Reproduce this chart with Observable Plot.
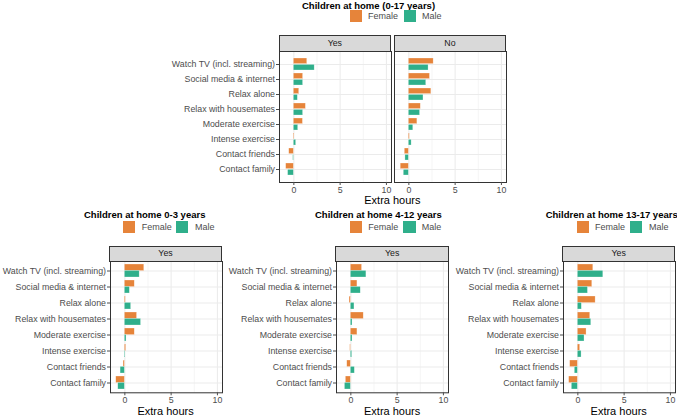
<!DOCTYPE html>
<html><head><meta charset="utf-8">
<script src="https://cdn.jsdelivr.net/npm/d3@7"></script>
<script src="https://cdn.jsdelivr.net/npm/@observablehq/plot@0.6"></script>
<style>
body{margin:0;background:#fff;font-family:"Liberation Sans",Arial,sans-serif;}
#root{position:relative;width:677px;height:416px;overflow:hidden;background:#fff;}
#root > svg{position:absolute;}
.title{position:absolute;font-weight:bold;font-size:9.5px;color:#000;white-space:nowrap;line-height:1;}
.leg{position:absolute;font-size:9px;color:#4D4D4D;white-space:nowrap;line-height:1;}
.sw{position:absolute;width:12.4px;height:12.4px;}
.strip{position:absolute;background:#D9D9D9;border:1px solid #333;box-sizing:border-box;font-size:8.8px;color:#1A1A1A;display:flex;align-items:center;justify-content:center;line-height:1;}
.xt{position:absolute;font-size:11px;color:#000;transform:translateX(-50%);white-space:nowrap;line-height:1;}
</style></head>
<body><div id="root"></div>
<script>
// ---------- data ----------
const activities = ["Watch TV (incl. streaming)", "Social media & internet", "Relax alone", "Relax with housemates", "Moderate exercise", "Intense exercise", "Contact friends", "Contact family"];
const sexes = ["Female", "Male"];
const sexColors = ["#E6843A", "#2FAF8B"];
const xTicks = [0, 5, 10];
const xMinorTicks = [2.5, 7.5];
const xDomain = [-1.55, 10.55];

const kids017_yes_female = [1.45, 1.0, 0.58, 1.3, 0.98, 0.07, -0.5, -0.83];
const kids017_yes_male   = [2.25, 1.0, 0.43, 1.0, 0.47, 0.25, -0.07, -0.62];
const kids017_no_female  = [2.68, 2.28, 2.43, 1.29, 0.92, 0.1, -0.44, -0.88];
const kids017_no_male    = [2.13, 1.88, 1.58, 1.21, 0.48, 0.3, -0.37, -0.55];
const kids03_female   = [2.1, 1.07, 0.1, 1.32, 1.07, 0.14, -0.14, -0.93];
const kids03_male     = [1.6, 0.54, 0.68, 1.75, 0.18, 0.07, -0.46, -0.71];
const kids412_female  = [1.21, 0.71, -0.14, 1.39, 0.71, -0.07, -0.39, -0.54];
const kids412_male    = [1.68, 1.07, 0.39, 0.18, 0.18, 0.14, 0.43, -0.64];
const kids1317_female = [1.67, 1.56, 1.92, 1.34, 0.94, 0.25, -0.83, -0.94];
const kids1317_male   = [2.75, 1.09, 0.43, 1.45, 0.72, 0.4, -0.33, -0.65];

// ---------- layout ----------
const root = document.getElementById("root");

function addDiv(cls, text, style) {
  const d = document.createElement("div");
  d.className = cls;
  if (text != null) d.textContent = text;
  Object.assign(d.style, style);
  root.appendChild(d);
  return d;
}

function makeChart(cfg) {
  const labels = cfg.panels.map(p => p.label);
  const rows = [];
  cfg.panels.forEach(p => {
    activities.forEach((a, i) => {
      rows.push({kids: p.label, activity: a, sex: "Female", value: p.female[i]});
      rows.push({kids: p.label, activity: a, sex: "Male", value: p.male[i]});
    });
  });
  const W = cfg.svgW, H = cfg.svgH;
  const panelH = cfg.bottom - cfg.top;
  const bw = 0.8 * panelH / 8.2;
  const total = cfg.right - cfg.left;
  const n = labels.length;
  const panelW = (total - cfg.gap * (n - 1)) / n;
  const step = panelW + cfg.gap;
  const pin = n > 1 ? cfg.gap / step : 0;
  const barOpts = (sex, i) => ({
    filter: d => d.sex === sex,
    x1: () => 0, x2: "value", y: "activity", fx: "kids",
    fill: sexColors[i],
    stroke: "white", strokeWidth: 0.5, strokeOpacity: 0.55,
    insetTop: i === 0 ? 0 : bw / 2,
    insetBottom: i === 0 ? bw / 2 : 0
  });
  const svg = Plot.plot({
    width: W, height: H,
    marginLeft: cfg.left - cfg.svgLeft,
    marginRight: cfg.svgLeft + W - cfg.right,
    marginTop: cfg.top - cfg.svgTop,
    marginBottom: cfg.svgTop + H - cfg.bottom,
    x: {domain: xDomain, axis: null},
    y: {domain: activities, padding: 0.2, axis: null},
    fx: {domain: labels, paddingInner: pin, paddingOuter: 0, axis: null},
    style: {fontFamily: "Liberation Sans, Arial, sans-serif", fontSize: "8.8px", background: "transparent", overflow: "visible"},
    marks: [
      Plot.gridX(xMinorTicks, {stroke: "#EBEBEB", strokeOpacity: 1, strokeWidth: 0.55}),
      Plot.gridX(xTicks, {stroke: "#EBEBEB", strokeOpacity: 1, strokeWidth: 1.07}),
      Plot.gridY(activities, {stroke: "#EBEBEB", strokeOpacity: 1, strokeWidth: 1.07}),
      Plot.barX(rows, barOpts("Female", 0)),
      Plot.barX(rows, barOpts("Male", 1)),
      Plot.frame({stroke: "#333", strokeWidth: 1}),
      Plot.axisX({ticks: xTicks, tickSize: 3, tickPadding: 1, color: "#4D4D4D", fontSize: 8.8, label: null}),
      Plot.axisY({tickSize: 3, tickPadding: 1.5, color: "#4D4D4D", fontSize: 8.8, label: null})
    ]
  });
  svg.style.left = cfg.svgLeft + "px";
  svg.style.top = cfg.svgTop + "px";
  root.appendChild(svg);

  // facet strips
  labels.forEach((lab, k) => {
    const x0 = cfg.left + k * step;
    addDiv("strip", lab, {left: (x0 - 0.5) + "px", top: cfg.stripTop + "px", width: (panelW + 1) + "px", height: (cfg.top - cfg.stripTop + 0.5) + "px"});
  });
  // axis title
  addDiv("xt", "Extra hours", {left: ((cfg.left + cfg.right) / 2) + "px", top: cfg.axisTitleTop + "px"});
  // legend
  const L = cfg.legend;
  addDiv("title", cfg.title, {left: L.titleLeft + "px", top: L.titleTop + "px"});
  sexes.forEach((s, i) => {
    addDiv("sw", null, {left: L.sw[i] + "px", top: L.swTop + "px", background: sexColors[i]});
    addDiv("leg", s, {left: L.tx[i] + "px", top: (L.swTop + 2.3) + "px"});
  });
}

makeChart({
  title: "Children at home (0-17 years)",
  panels: [
    {label: "Yes", female: kids017_yes_female, male: kids017_yes_male},
    {label: "No", female: kids017_no_female, male: kids017_no_male}
  ],
  svgLeft: 0, svgTop: 0, svgW: 530, svgH: 212,
  left: 279.0, right: 505.8, gap: 3.4, top: 51, bottom: 182, stripTop: 34.5,
  axisTitleTop: 194.7,
  legend: {titleLeft: 302, titleTop: 0.5, swTop: 9.6, sw: [350, 404], tx: [368, 422]}
});
makeChart({
  title: "Children at home 0-3 years",
  panels: [{label: "Yes", female: kids03_female, male: kids03_male}],
  svgLeft: 0, svgTop: 236, svgW: 228, svgH: 180,
  left: 109.3, right: 221.8, gap: 0, top: 261, bottom: 392.3, stripTop: 245.5,
  axisTitleTop: 405.7,
  legend: {titleLeft: 84, titleTop: 209.5, swTop: 220.5, sw: [123, 176], tx: [141.7, 195]}
});
makeChart({
  title: "Children at home 4-12 years",
  panels: [{label: "Yes", female: kids412_female, male: kids412_male}],
  svgLeft: 228, svgTop: 236, svgW: 226, svgH: 180,
  left: 335.9, right: 448.4, gap: 0, top: 261, bottom: 392.3, stripTop: 245.5,
  axisTitleTop: 405.7,
  legend: {titleLeft: 315, titleTop: 209.5, swTop: 220.5, sw: [350, 403.3], tx: [368.3, 421.7]}
});
makeChart({
  title: "Children at home 13-17 years",
  panels: [{label: "Yes", female: kids1317_female, male: kids1317_male}],
  svgLeft: 454, svgTop: 236, svgW: 223, svgH: 180,
  left: 562.6, right: 674.8, gap: 0, top: 261, bottom: 392.3, stripTop: 245.5,
  axisTitleTop: 405.7,
  legend: {titleLeft: 545.7, titleTop: 209.5, swTop: 220.5, sw: [576.7, 630], tx: [595, 649]}
});
</script>
</body></html>
